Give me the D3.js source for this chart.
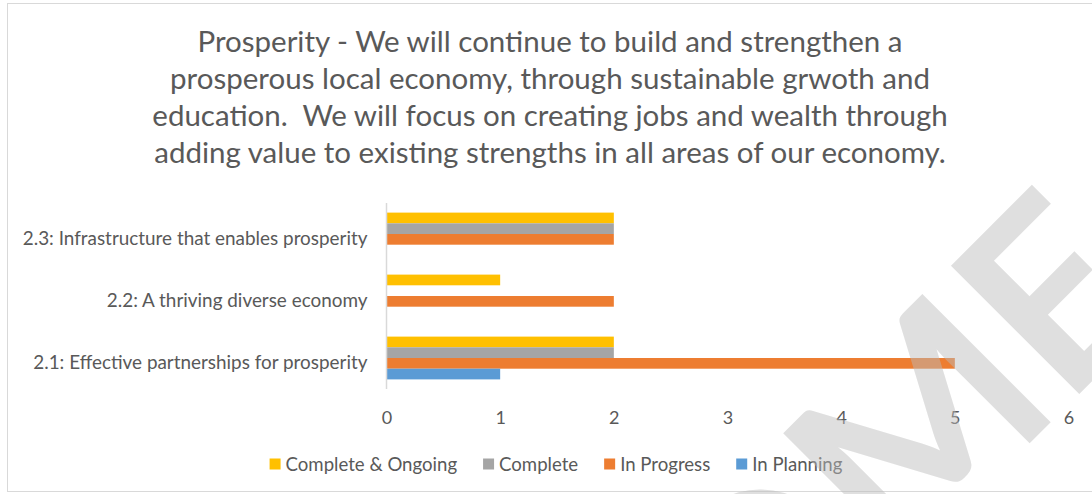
<!DOCTYPE html>
<html>
<head>
<meta charset="utf-8">
<script src="https://cdn.jsdelivr.net/npm/d3@7"></script>
<style>
  html, body { margin: 0; padding: 0; background: #ffffff; }
  svg { display: block; }
  text { font-family: Lato, "Open Sans", sans-serif; }
</style>
</head>
<body>
<svg id="chart" width="1092" height="494"></svg>
<script>
// ---- data ----
const categories = [
  "2.1: Effective partnerships for prosperity",
  "2.2: A thriving diverse economy",
  "2.3: Infrastructure that enables prosperity"
];
const seriesNames = ["Complete & Ongoing", "Complete", "In Progress", "In Planning"];
const completeOngoing = [2, 1, 2];
const complete = [2, 0, 2];
const inProgress = [5, 2, 2];
const inPlanning = [1, 0, 0];
const xTicks = [0, 1, 2, 3, 4, 5, 6];
const titleLines = [
  "Prosperity - We will continue to build and strengthen a",
  "prosperous local economy, through sustainable grwoth and",
  "education.  We will focus on creating jobs and wealth through",
  "adding value to existing strengths in all areas of our economy."
];
const watermarkText = "HOME";

// ---- styles ----
const seriesColors = ["#FFC000", "#A5A5A5", "#ED7D31", "#5B9BD5"];
const textColor = "#595959";
const lineColor = "#D9D9D9";

const seriesValues = [completeOngoing, complete, inProgress, inPlanning];

const svg = d3.select("#chart");

// chart frame
svg.append("rect")
  .attr("x", 7.5).attr("y", 3.5)
  .attr("width", 1100).attr("height", 488)
  .attr("fill", "#ffffff")
  .attr("stroke", lineColor).attr("stroke-width", 1);

// title
svg.append("g")
  .selectAll("text")
  .data(titleLines)
  .join("text")
  .attr("x", 550)
  .attr("y", (d, i) => 52 + i * 37)
  .attr("text-anchor", "middle")
  .attr("font-size", 29.5)
  .attr("fill", textColor)
  .style("white-space", "pre")
  .text(d => d);

// scales
const x = d3.scaleLinear().domain([0, 6]).range([386.5, 1068.5]);
const y = d3.scaleBand()
  .domain(categories.slice().reverse())
  .range([203, 389])
  .paddingInner(0.31)
  .paddingOuter(0.155);
const ySub = d3.scaleBand()
  .domain(seriesNames)
  .range([0, y.bandwidth()]);

// bars
const rows = categories.map((c, ci) => ({
  category: c,
  values: seriesNames.map((s, si) => ({ series: s, value: seriesValues[si][ci], color: seriesColors[si] }))
}));

const groups = svg.append("g")
  .selectAll("g")
  .data(rows)
  .join("g")
  .attr("transform", d => `translate(0,${y(d.category)})`);

groups.selectAll("rect")
  .data(d => d.values.filter(v => v.value > 0))
  .join("rect")
  .attr("x", x(0))
  .attr("y", d => ySub(d.series))
  .attr("width", d => x(d.value) - x(0))
  .attr("height", ySub.bandwidth())
  .attr("fill", d => d.color);

// vertical category axis line
svg.append("line")
  .attr("x1", x(0)).attr("x2", x(0))
  .attr("y1", 203).attr("y2", 389)
  .attr("stroke", lineColor).attr("stroke-width", 1.5);

// category labels
const yAxis = svg.append("g")
  .attr("transform", `translate(${x(0)},0)`)
  .call(d3.axisLeft(y).tickSize(0).tickPadding(19));
yAxis.select(".domain").remove();
yAxis.selectAll("text")
  .attr("font-family", "Lato, 'Open Sans', sans-serif")
  .attr("font-size", 18.9)
  .attr("fill", textColor)
  .attr("dy", "0.6em");

// value axis labels
const xAxis = svg.append("g")
  .attr("transform", "translate(0,406)")
  .call(d3.axisBottom(x).tickValues(xTicks).tickSize(0).tickPadding(0).tickFormat(d3.format("d")));
xAxis.select(".domain").remove();
xAxis.selectAll("text")
  .attr("font-family", "Lato, 'Open Sans', sans-serif")
  .attr("font-size", 18)
  .attr("fill", textColor)
  .attr("dy", "1em");

// legend
const legend = svg.append("g").attr("transform", "translate(0,464)");
const items = legend.selectAll("g")
  .data(seriesNames.map((s, i) => ({ name: s, color: seriesColors[i] })))
  .join("g");
items.append("rect")
  .attr("width", 11).attr("height", 11)
  .attr("y", -5.5)
  .attr("fill", d => d.color);
items.append("text")
  .attr("x", 16)
  .attr("dy", "0.35em")
  .attr("font-size", 18.6)
  .attr("fill", textColor)
  .text(d => d.name);
let cursor = 0;
const itemGap = 26;
const offsets = [];
items.each(function () {
  const w = 16 + this.querySelector("text").getComputedTextLength();
  offsets.push(cursor);
  cursor += w + itemGap;
});
const legendWidth = cursor - itemGap;
const legendStart = 556 - legendWidth / 2;
items.attr("transform", (d, i) => `translate(${legendStart + offsets[i]},0)`);

// watermark across the lower right
svg.append("g")
  .attr("transform", "rotate(-45)")
  .append("text")
  .attr("x", -169)
  .attr("y", 1041.6)
  .attr("font-family", "'DejaVu Sans', sans-serif")
  .attr("font-weight", "bold")
  .attr("font-size", 251)
  .attr("fill", "rgb(188,188,188)")
  .attr("fill-opacity", 0.47)
  .text(watermarkText);
</script>
</body>
</html>
